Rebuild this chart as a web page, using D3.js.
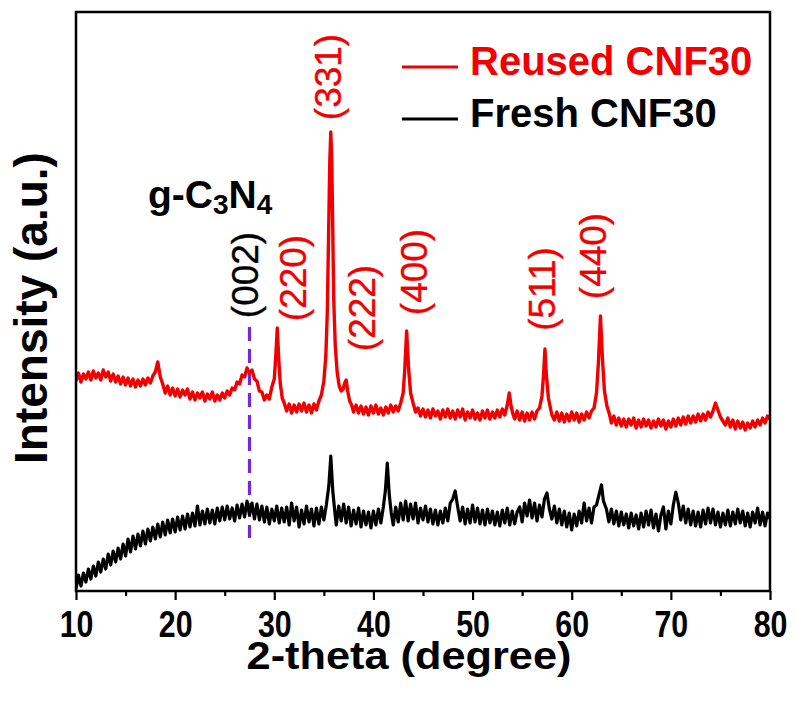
<!DOCTYPE html>
<html>
<head>
<meta charset="utf-8">
<script src="https://cdn.jsdelivr.net/npm/d3@7"></script>
<style>
  html, body { margin: 0; padding: 0; background: #fff; }
  svg { display: block; }
  text { font-family: "Liberation Sans", Arial, sans-serif; }
</style>
</head>
<body>
<svg id="chart" width="797" height="707"></svg>
<script>
// ---------------- DATA ----------------
const xTicks = [10, 20, 30, 40, 50, 60, 70, 80];
const xMinorTicks = [15, 25, 35, 45, 55, 65, 75];
const seriesNames = ["Reused CNF30", "Fresh CNF30"];
const seriesColors = ["#f20000", "#000000"];

// Reused CNF30: [2-theta, intensity (a.u.)]
const reusedData = [
[10.00,210],[10.25,218],[10.50,209],[10.75,217],[11.00,212],[11.25,219],[11.50,211],[11.75,220],[12.00,213],[12.25,218],
[12.50,211],[12.75,221],[13.00,214],[13.25,219],[13.50,210],[13.75,217],[14.00,209],[14.25,215],[14.50,207],[14.75,214],
[15.00,206],[15.25,213],[15.50,205],[15.75,212],[16.00,204],[16.25,211],[16.50,205],[16.75,212],[17.00,206],[17.25,213],
[17.50,208],[17.75,215],[18.00,219],[18.25,229],[18.50,214],[18.75,207],[19.00,198],[19.25,205],[19.50,196],[19.75,203],
[20.00,195],[20.25,202],[20.50,194],[20.75,201],[21.00,196],[21.25,202],[21.50,192],[21.75,199],[22.00,191],[22.25,198],
[22.50,193],[22.75,199],[23.00,190],[23.25,197],[23.50,192],[23.75,199],[24.00,190],[24.25,196],[24.50,191],[24.75,198],
[25.00,193],[25.25,200],[25.50,196],[25.75,203],[26.00,201],[26.25,209],[26.50,207],[26.75,216],[27.00,214],[27.25,223],
[27.50,218],[27.75,221],[28.00,212],[28.25,210],[28.50,200],[28.75,199],[29.00,191],[29.25,196],[29.50,192],[29.75,204],
[30.00,212],[30.15,235],[30.30,263],[30.45,232],[30.60,208],[30.80,193],[31.00,188],[31.25,180],[31.50,187],[31.75,178],
[32.00,186],[32.25,179],[32.50,187],[32.75,180],[33.00,188],[33.25,179],[33.50,186],[33.75,178],[34.00,187],[34.25,181],
[34.50,190],[34.75,196],[35.00,210],[35.20,235],[35.35,280],[35.50,370],[35.60,430],[35.70,459],[35.80,430],[35.90,360],
[36.00,290],[36.15,245],[36.35,218],[36.55,205],[36.75,200],[36.95,202],[37.10,208],[37.25,211],[37.40,200],[37.60,190],
[37.80,186],[38.00,179],[38.25,186],[38.50,178],[38.75,185],[39.00,177],[39.25,184],[39.50,176],[39.75,185],[40.00,178],
[40.25,186],[40.50,177],[40.75,183],[41.00,176],[41.25,184],[41.50,178],[41.75,186],[42.00,179],[42.25,185],[42.50,180],
[42.75,188],[43.00,198],[43.15,220],[43.35,260],[43.55,222],[43.75,198],[44.00,188],[44.25,179],[44.50,183],[44.75,175],
[45.00,182],[45.25,174],[45.50,181],[45.75,173],[46.00,182],[46.25,175],[46.50,180],[46.75,172],[47.00,181],[47.25,174],
[47.50,182],[47.75,173],[48.00,180],[48.25,172],[48.50,181],[48.75,174],[49.00,182],[49.25,171],[49.50,179],[49.75,173],
[50.00,181],[50.25,172],[50.50,178],[50.75,171],[51.00,180],[51.25,173],[51.50,181],[51.75,172],[52.00,179],[52.25,173],
[52.50,181],[52.75,174],[53.00,182],[53.25,176],[53.50,186],[53.70,198],[53.90,184],[54.10,176],[54.25,172],[54.50,180],
[54.75,171],[55.00,179],[55.25,170],[55.50,178],[55.75,171],[56.00,179],[56.25,172],[56.50,180],[56.75,183],[57.00,195],
[57.15,215],[57.30,242],[57.45,215],[57.65,193],[57.85,183],[58.00,176],[58.25,171],[58.50,179],[58.75,170],[59.00,178],
[59.25,169],[59.50,177],[59.75,170],[60.00,179],[60.25,171],[60.50,178],[60.75,169],[61.00,177],[61.25,171],[61.50,179],
[61.75,173],[62.00,180],[62.25,183],[62.50,198],[62.70,230],[62.90,275],[63.10,232],[63.30,200],[63.55,185],[63.80,177],
[64.00,168],[64.25,175],[64.50,166],[64.75,173],[65.00,165],[65.25,172],[65.50,164],[65.75,172],[66.00,166],[66.25,173],
[66.50,163],[66.75,171],[67.00,164],[67.25,172],[67.50,165],[67.75,171],[68.00,163],[68.25,170],[68.50,164],[68.75,172],
[69.00,165],[69.25,171],[69.50,162],[69.75,170],[70.00,164],[70.25,172],[70.50,165],[70.75,173],[71.00,166],[71.25,174],
[71.50,167],[71.75,175],[72.00,168],[72.25,175],[72.50,169],[72.75,177],[73.00,170],[73.25,177],[73.50,171],[73.75,179],
[74.00,174],[74.25,180],[74.50,188],[74.75,181],[75.00,174],[75.25,170],[75.50,166],[75.75,173],[76.00,164],[76.25,171],
[76.50,162],[76.75,170],[77.00,163],[77.25,169],[77.50,161],[77.75,168],[78.00,163],[78.25,170],[78.50,164],[78.75,171],
[79.00,166],[79.25,173],[79.50,168],[79.75,175],[80.00,172]
];

// Fresh CNF30: [2-theta, intensity (a.u.)]
const freshData = [
[10.00,2],[10.25,16],[10.50,5],[10.75,18],[11.00,9],[11.25,22],[11.50,12],[11.75,25],[12.00,15],[12.25,29],
[12.50,19],[12.75,32],[13.00,22],[13.25,37],[13.50,26],[13.75,40],[14.00,29],[14.25,43],[14.50,32],[14.75,47],
[15.00,35],[15.25,52],[15.50,39],[15.75,55],[16.00,42],[16.25,57],[16.50,45],[16.75,60],[17.00,47],[17.25,62],
[17.50,50],[17.75,64],[18.00,52],[18.25,67],[18.50,54],[18.75,69],[19.00,56],[19.25,71],[19.50,58],[19.75,72],
[20.00,59],[20.25,74],[20.50,61],[20.75,75],[21.00,62],[21.25,77],[21.50,64],[21.75,78],[22.00,65],[22.25,85],
[22.50,66],[22.75,80],[23.00,67],[23.25,82],[23.50,68],[23.75,81],[24.00,67],[24.25,83],[24.50,70],[24.75,84],
[25.00,71],[25.25,85],[25.50,72],[25.75,83],[26.00,70],[26.25,86],[26.50,73],[26.75,87],[27.00,74],[27.25,90],
[27.50,76],[27.75,88],[28.00,72],[28.25,87],[28.50,71],[28.75,85],[29.00,69],[29.25,84],[29.50,67],[29.75,82],
[30.00,70],[30.25,85],[30.50,68],[30.75,83],[31.00,69],[31.25,84],[31.50,66],[31.75,88],[32.00,70],[32.25,84],
[32.50,64],[32.75,81],[33.00,67],[33.25,85],[33.50,69],[33.75,82],[34.00,65],[34.25,83],[34.50,67],[34.75,84],
[35.00,71],[35.25,86],[35.50,105],[35.70,135],[35.90,100],[36.10,80],[36.25,66],[36.50,85],[36.75,70],[37.00,87],
[37.25,68],[37.50,84],[37.75,65],[38.00,81],[38.25,67],[38.50,83],[38.75,64],[39.00,80],[39.25,66],[39.50,79],
[39.75,63],[40.00,80],[40.25,66],[40.50,82],[40.75,68],[41.00,84],[41.20,100],[41.40,128],[41.60,96],[41.80,78],
[42.00,66],[42.25,84],[42.50,69],[42.75,88],[43.00,71],[43.25,90],[43.50,70],[43.75,87],[44.00,72],[44.25,88],
[44.50,68],[44.75,83],[45.00,71],[45.25,85],[45.50,69],[45.75,82],[46.00,67],[46.25,81],[46.50,66],[46.75,80],
[47.00,68],[47.25,83],[47.50,70],[47.75,88],[48.00,92],[48.25,100],[48.50,84],[48.75,70],[49.00,84],[49.25,67],
[49.50,82],[49.75,68],[50.00,86],[50.25,69],[50.50,83],[50.75,67],[51.00,81],[51.25,66],[51.50,82],[51.75,68],
[52.00,80],[52.25,66],[52.50,79],[52.75,65],[53.00,81],[53.25,68],[53.50,83],[53.75,66],[54.00,80],[54.25,67],
[54.50,79],[54.75,84],[55.00,69],[55.25,88],[55.50,75],[55.75,91],[56.00,73],[56.25,88],[56.50,70],[56.75,86],
[57.00,74],[57.25,92],[57.50,98],[57.75,82],[58.00,72],[58.25,85],[58.50,68],[58.75,82],[59.00,66],[59.25,80],
[59.50,64],[59.75,78],[60.00,61],[60.25,77],[60.50,65],[60.75,80],[61.00,68],[61.25,88],[61.50,70],[61.75,83],
[62.00,68],[62.25,84],[62.50,86],[62.75,96],[63.00,106],[63.20,90],[63.50,82],[63.75,69],[64.00,82],[64.25,67],
[64.50,80],[64.75,65],[65.00,79],[65.25,66],[65.50,77],[65.75,63],[66.00,78],[66.25,65],[66.50,76],[66.75,62],
[67.00,78],[67.25,64],[67.50,80],[67.75,66],[68.00,81],[68.25,63],[68.50,77],[68.75,60],[69.00,76],[69.25,84],
[69.50,62],[69.75,80],[70.00,67],[70.25,86],[70.50,99],[70.75,88],[71.00,71],[71.25,85],[71.50,68],[71.75,82],
[72.00,66],[72.25,80],[72.50,65],[72.75,79],[73.00,64],[73.25,81],[73.50,67],[73.75,83],[74.00,68],[74.25,82],
[74.50,66],[74.75,79],[75.00,64],[75.25,78],[75.50,66],[75.75,81],[76.00,65],[76.25,79],[76.50,67],[76.75,82],
[77.00,68],[77.25,80],[77.50,65],[77.75,78],[78.00,64],[78.25,79],[78.50,68],[78.75,83],[79.00,66],[79.25,79],
[79.50,65],[79.75,78],[80.00,72]
];

// Peak labels: [text, 2-theta position, intensity position, colour]
const peakLabels = [
  ["(002)", 27.40, 316, "#000000"],
  ["(220)", 32.19, 313, "#f20000"],
  ["(331)", 35.75, 514, "#f20000"],
  ["(222)", 39.15, 283, "#f20000"],
  ["(400)", 44.45, 319, "#f20000"],
  ["(511)", 57.31, 302, "#f20000"],
  ["(440)", 62.50, 335, "#f20000"]
];
const refLine = {x: 27.5, y0: 53, y1: 264};   // g-C3N4 (002) marker

// ---------------- CHART ----------------
const svg = d3.select("#chart");
const L = 76, R = 770, T = 12, B = 591;
const x = d3.scaleLinear().domain([10, 80]).range([L, R]);
const y = d3.scaleLinear().domain([0, B - T]).range([B, T]);
const font = '"Liberation Sans", Arial, sans-serif';

const line = d3.line().x(d => x(d[0])).y(d => y(d[1]));

svg.append("clipPath").attr("id", "plotclip").append("rect")
  .attr("x", L).attr("y", T).attr("width", R - L).attr("height", B - T);
const plot = svg.append("g").attr("clip-path", "url(#plotclip)");

// reference dashed line
plot.append("line")
  .attr("x1", x(refLine.x)).attr("x2", x(refLine.x))
  .attr("y1", y(refLine.y1)).attr("y2", y(refLine.y0))
  .attr("stroke", "#7426e0").attr("stroke-width", 3.2)
  .attr("stroke-dasharray", "14,8");

plot.append("path").datum(freshData).attr("d", line)
  .attr("fill", "none").attr("stroke", seriesColors[1]).attr("stroke-width", 3.2)
  .attr("stroke-linejoin", "round");
plot.append("path").datum(reusedData).attr("d", line)
  .attr("fill", "none").attr("stroke", seriesColors[0]).attr("stroke-width", 3.4)
  .attr("stroke-linejoin", "round");

// axis bottom (outward ticks)
const xAxis = d3.axisBottom(x).tickValues(xTicks).tickSize(9).tickSizeOuter(0).tickPadding(11)
  .tickFormat(d3.format("d"));
const gx = svg.append("g").attr("transform", `translate(0,${B})`).call(xAxis);
gx.select(".domain").remove();
gx.selectAll(".tick line").attr("stroke", "#000").attr("stroke-width", 2.2);
gx.selectAll(".tick text").attr("font-family", font).attr("font-weight", "bold")
  .attr("font-size", 37).attr("fill", "#000")
  .attr("transform", "scale(0.82,1)");

const xMinor = d3.axisBottom(x).tickValues(xMinorTicks).tickSize(5).tickFormat("");
const gxm = svg.append("g").attr("transform", `translate(0,${B})`).call(xMinor);
gxm.select(".domain").remove();
gxm.selectAll(".tick line").attr("stroke", "#000").attr("stroke-width", 2.2);

// frame
svg.append("rect").attr("x", L).attr("y", T).attr("width", R - L).attr("height", B - T)
  .attr("fill", "none").attr("stroke", "#000").attr("stroke-width", 2.5);

// axis titles
svg.append("text").attr("transform", "translate(409,669) scale(1.14,1)")
  .attr("text-anchor", "middle").attr("font-family", font).attr("font-weight", "bold")
  .attr("font-size", 38).text("2-theta (degree)");
svg.append("text").attr("transform", `translate(47,308) rotate(-90)`)
  .attr("text-anchor", "middle").attr("font-family", font).attr("font-weight", "bold")
  .attr("font-size", 46).text("Intensity (a.u.)");

// peak labels
peakLabels.forEach(p => {
  svg.append("text")
    .attr("transform", `translate(${x(p[1])},${y(p[2])}) rotate(-90)`)
    .attr("text-anchor", "middle").attr("dy", "0.26em")
    .attr("font-family", font).attr("font-size", 37).attr("fill", p[3])
    .attr("stroke", p[3]).attr("stroke-width", 0.4)
    .text(p[0]);
});

// g-C3N4 label
const g = svg.append("text").attr("x", 148).attr("y", 208)
  .attr("font-family", font).attr("font-weight", "bold").attr("font-size", 39).attr("fill", "#000");
g.append("tspan").text("g-C");
g.append("tspan").attr("font-size", 28).attr("dy", 6).text("3");
g.append("tspan").attr("dy", -6).text("N");
g.append("tspan").attr("font-size", 28).attr("dy", 6).text("4");

// legend
const legendY = [67, 119];
seriesNames.forEach((name, i) => {
  svg.append("line").attr("x1", 402).attr("x2", 458).attr("y1", legendY[i]).attr("y2", legendY[i])
    .attr("stroke", seriesColors[i]).attr("stroke-width", 3);
  svg.append("text").attr("x", 470).attr("y", legendY[i] + 8)
    .attr("font-family", font).attr("font-weight", "bold").attr("font-size", 40)
    .attr("fill", seriesColors[i]).text(name);
});
</script>
</body>
</html>
